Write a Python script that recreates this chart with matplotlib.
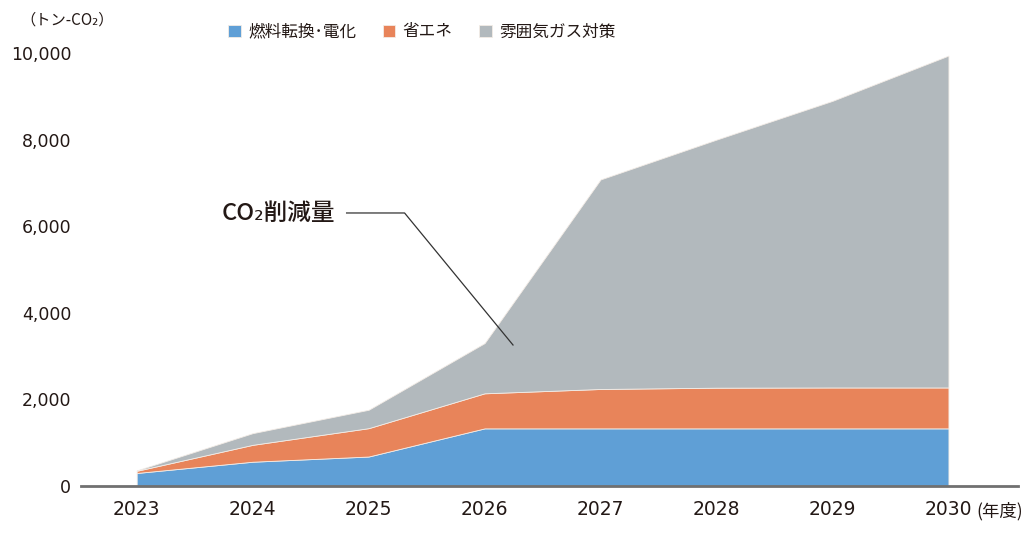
import matplotlib
matplotlib.use("Agg")
import matplotlib.pyplot as plt
import numpy as np

plt.rcParams['font.family'] = ['Noto Sans CJK JP', 'DejaVu Sans']

years = [2023, 2024, 2025, 2026, 2027, 2028, 2029, 2030]
year_labels = ["2023", "2024", "2025", "2026", "2027", "2028", "2029", "2030"]
fuel_electrification = [300, 560, 680, 1330, 1330, 1330, 1330, 1330]
energy_saving = [50, 390, 655, 810, 910, 940, 945, 945]
atmosphere_gas = [10, 270, 425, 1160, 4840, 5730, 6620, 7665]
series_names = ["燃料転換･電化", "省エネ", "雰囲気ガス対策"]
colors = ["#5f9fd6", "#e8845a", "#b2b9bd"]
y_ticks = [0, 2000, 4000, 6000, 8000, 10000]
y_tick_labels = ["0", "2,000", "4,000", "6,000", "8,000", "10,000"]

fig = plt.figure(figsize=(10.35, 5.38), dpi=100)
ax = fig.add_axes([0.0783, 0.0967, 0.9053, 0.8048])

ax.stackplot(years, fuel_electrification, energy_saving, atmosphere_gas,
             colors=colors, labels=series_names,
             edgecolor="#f3ece6", linewidth=0.6)

ax.set_xlim(2022.52, 2030.6)
ax.set_ylim(0, 10000)
for s in ["top", "right", "left"]:
    ax.spines[s].set_visible(False)
ax.spines["bottom"].set_color("#707070")
ax.spines["bottom"].set_linewidth(2)
ax.spines["bottom"].set_zorder(5)

text_color = "#231815"
latin = ['DejaVu Sans']
ax.set_xticks(years)
ax.set_xticklabels(year_labels, fontsize=13.5, color=text_color, family=latin)
ax.set_yticks(y_ticks)
ax.set_yticklabels(y_tick_labels, fontsize=12.5, color=text_color, family=latin)
ax.tick_params(axis="both", length=0)
ax.tick_params(axis="x", pad=10)
ax.tick_params(axis="y", pad=7)

# unit labels
fig.text(20 / 1035, 1 - 20 / 538, "（トン-CO₂）", fontsize=11, color=text_color,
         ha="left", va="center")
fig.text(976 / 1035, 1 - 511 / 538, "(年度)", fontsize=12.5, color=text_color,
         ha="left", va="center")

# legend
leg = fig.legend(loc="center left", bbox_to_anchor=(213 / 1035, 1 - 32 / 538),
                 ncol=3, frameon=False, fontsize=12, handlelength=0.75,
                 handleheight=0.75, handletextpad=0.45, columnspacing=1.6,
                 labelcolor=text_color)

# annotation
ax.text(2024.71, 6300, "CO₂削減量", fontsize=17, color=text_color,
        ha="right", va="center", fontweight="medium")
ax.plot([2024.81, 2025.31, 2026.245], [6305, 6305, 3256], color="#333333",
        linewidth=0.9, clip_on=False, zorder=6)

fig.savefig("out.png", dpi=100)
